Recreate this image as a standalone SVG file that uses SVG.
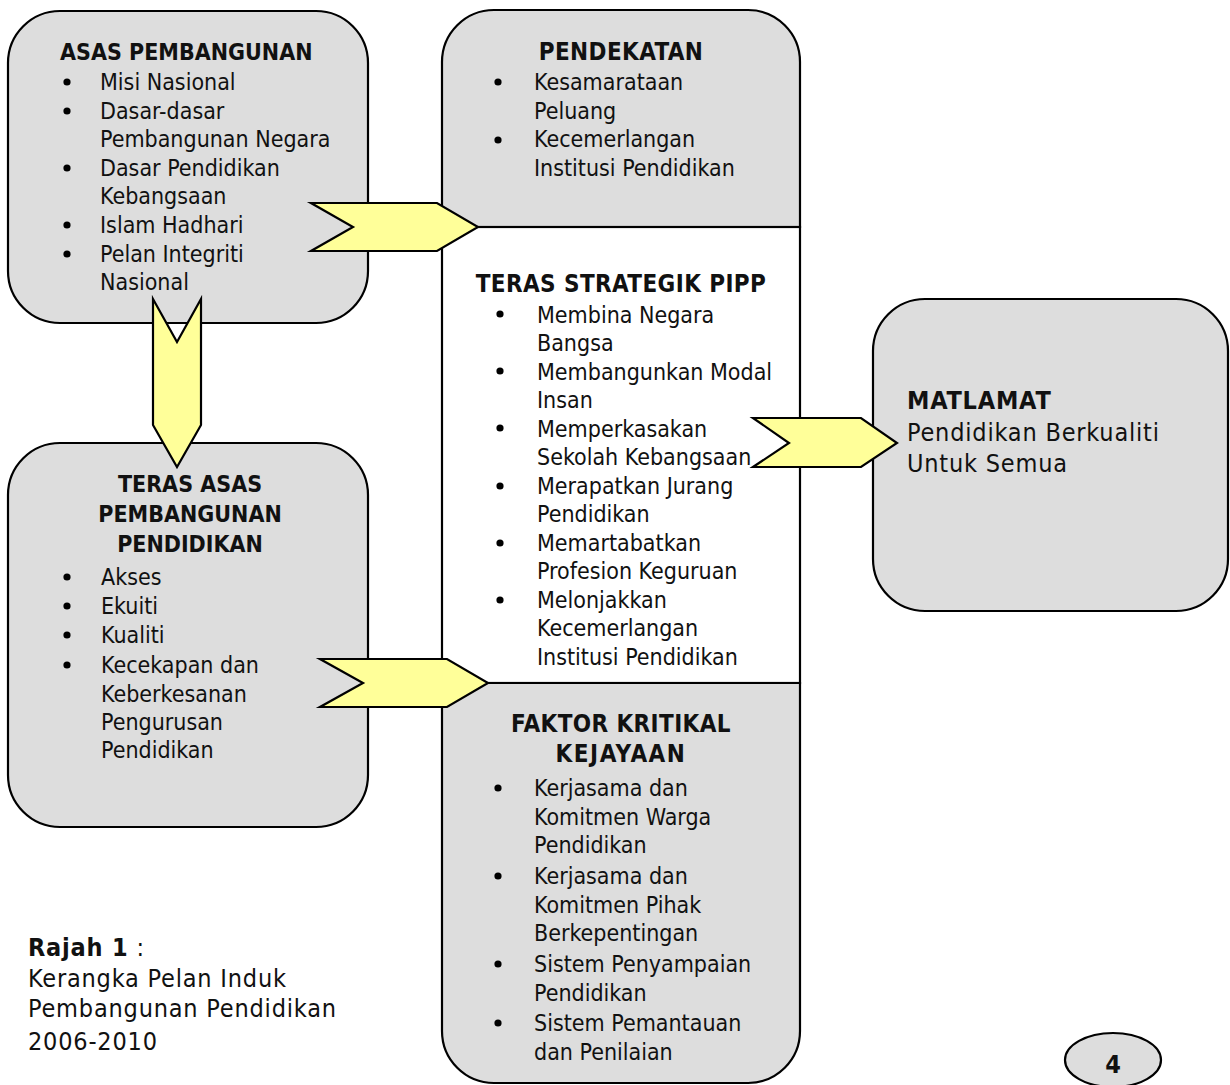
<svg xmlns="http://www.w3.org/2000/svg" width="1230" height="1085" viewBox="0 0 1230 1085">
<style>
.box{fill:#dddddd;stroke:#000;stroke-width:2.2}
.wbox{fill:#ffffff;stroke:#000;stroke-width:2.2}
.arr{fill:#ffff99;stroke:#000;stroke-width:2.2;stroke-linejoin:miter}
text{font-family:"DejaVu Sans Condensed","DejaVu Sans",sans-serif;font-size:23px;fill:#111}
.b{font-weight:bold}
.c{text-anchor:middle}
.t24{font-size:24px;letter-spacing:0.4px}
.big{font-size:25px;letter-spacing:0.8px}
.dot{fill:#000}
.num{font-family:"Liberation Sans Narrow","DejaVu Sans Condensed",sans-serif;font-weight:bold;font-size:25px}
</style>
<rect width="1230" height="1085" fill="#ffffff"/>

<g id="asas">
<rect class="box" x="8" y="11" width="360" height="312" rx="52" ry="52"/>
<text class="b" x="60" y="60">ASAS PEMBANGUNAN</text>
<circle class="dot" cx="67" cy="82" r="3.6"/>
<circle class="dot" cx="67" cy="111" r="3.6"/>
<circle class="dot" cx="67" cy="168" r="3.6"/>
<circle class="dot" cx="67" cy="225" r="3.6"/>
<circle class="dot" cx="67" cy="254" r="3.6"/>
<text x="100" y="90">Misi Nasional</text>
<text x="100" y="118.6">Dasar-dasar</text>
<text x="100" y="147.2">Pembangunan Negara</text>
<text x="100" y="175.8">Dasar Pendidikan</text>
<text x="100" y="204.4">Kebangsaan</text>
<text x="100" y="233">Islam Hadhari</text>
<text x="100" y="261.6">Pelan Integriti</text>
<text x="100" y="290.2">Nasional</text>
</g>

<g id="teras-asas">
<rect class="box" x="8" y="443" width="360" height="384" rx="52" ry="52"/>
<text class="b c" x="190" y="492">TERAS ASAS</text>
<text class="b c" x="190" y="522">PEMBANGUNAN</text>
<text class="b c" x="190" y="552">PENDIDIKAN</text>
<circle class="dot" cx="67" cy="577" r="3.6"/>
<circle class="dot" cx="67" cy="606" r="3.6"/>
<circle class="dot" cx="67" cy="635" r="3.6"/>
<circle class="dot" cx="67" cy="665" r="3.6"/>
<text x="101" y="585">Akses</text>
<text x="101" y="614">Ekuiti</text>
<text x="101" y="643">Kualiti</text>
<text x="101" y="673">Kecekapan dan</text>
<text x="101" y="702">Keberkesanan</text>
<text x="101" y="730">Pengurusan</text>
<text x="101" y="758">Pendidikan</text>
</g>

<g id="pendekatan">
<path class="box" d="M442,227 V62 A52,52 0 0 1 494,10 H748 A52,52 0 0 1 800,62 V227 Z"/>
<text class="b c t24" x="621" y="60">PENDEKATAN</text>
<circle class="dot" cx="498" cy="82" r="3.6"/>
<circle class="dot" cx="498" cy="140" r="3.6"/>
<text x="534" y="90">Kesamarataan</text>
<text x="534" y="118.6">Peluang</text>
<text x="534" y="147.2">Kecemerlangan</text>
<text x="534" y="175.8">Institusi Pendidikan</text>
</g>

<g id="teras-strategik">
<rect class="wbox" x="442" y="227" width="358" height="456"/>
<text class="b c t24" x="621" y="292">TERAS STRATEGIK PIPP</text>
<circle class="dot" cx="500" cy="314" r="3.6"/>
<circle class="dot" cx="500" cy="371" r="3.6"/>
<circle class="dot" cx="500" cy="428" r="3.6"/>
<circle class="dot" cx="500" cy="486" r="3.6"/>
<circle class="dot" cx="500" cy="543" r="3.6"/>
<circle class="dot" cx="500" cy="600" r="3.6"/>
<text x="537" y="322.5">Membina Negara</text>
<text x="537" y="351">Bangsa</text>
<text x="537" y="379.5">Membangunkan Modal</text>
<text x="537" y="408">Insan</text>
<text x="537" y="436.5">Memperkasakan</text>
<text x="537" y="465">Sekolah Kebangsaan</text>
<text x="537" y="493.5">Merapatkan Jurang</text>
<text x="537" y="522">Pendidikan</text>
<text x="537" y="550.5">Memartabatkan</text>
<text x="537" y="579">Profesion Keguruan</text>
<text x="537" y="607.5">Melonjakkan</text>
<text x="537" y="636">Kecemerlangan</text>
<text x="537" y="664.5">Institusi Pendidikan</text>
</g>

<g id="faktor">
<path class="box" d="M442,683 H800 V1031 A52,52 0 0 1 748,1083 H494 A52,52 0 0 1 442,1031 Z"/>
<text class="b c t24" x="621" y="732">FAKTOR KRITIKAL</text>
<text class="b c t24" x="621" y="762" style="letter-spacing:1.5px">KEJAYAAN</text>
<circle class="dot" cx="498" cy="788" r="3.6"/>
<circle class="dot" cx="498" cy="876" r="3.6"/>
<circle class="dot" cx="498" cy="964" r="3.6"/>
<circle class="dot" cx="498" cy="1023" r="3.6"/>
<text x="534" y="796">Kerjasama dan</text>
<text x="534" y="824.6">Komitmen Warga</text>
<text x="534" y="853.2">Pendidikan</text>
<text x="534" y="884">Kerjasama dan</text>
<text x="534" y="912.6">Komitmen Pihak</text>
<text x="534" y="941.2">Berkepentingan</text>
<text x="534" y="972">Sistem Penyampaian</text>
<text x="534" y="1000.6">Pendidikan</text>
<text x="534" y="1031">Sistem Pemantauan</text>
<text x="534" y="1059.6">dan Penilaian</text>
</g>

<g id="matlamat">
<rect class="box" x="873" y="299" width="355" height="312" rx="52" ry="52"/>
<text class="b big" x="907" y="409">MATLAMAT</text>
<text class="big" x="907" y="441">Pendidikan Berkualiti</text>
<text class="big" x="907" y="472">Untuk Semua</text>
</g>

<g id="connectors">
<polygon class="arr" points="311,203 437,203 478,227 437,251 311,251 353,227"/>
<polygon class="arr" points="153,299 177,342 201,299 201,425 177,467 153,425"/>
<polygon class="arr" points="320,659 447,659 488,683 447,707 320,707 363,683"/>
<polygon class="arr" points="753,418 861,418 897,443 861,467 753,467 789,443"/>
</g>

<g id="caption">
<text class="big" x="28" y="956"><tspan class="b">Rajah 1</tspan> :</text>
<text class="big" x="28" y="987">Kerangka Pelan Induk</text>
<text class="big" x="28" y="1017">Pembangunan Pendidikan</text>
<text class="big" x="28" y="1050">2006-2010</text>
</g>

<g id="page-number">
<ellipse class="box" cx="1113" cy="1060" rx="48" ry="27"/>
<text class="num c" x="1113" y="1073">4</text>
</g>
</svg>
